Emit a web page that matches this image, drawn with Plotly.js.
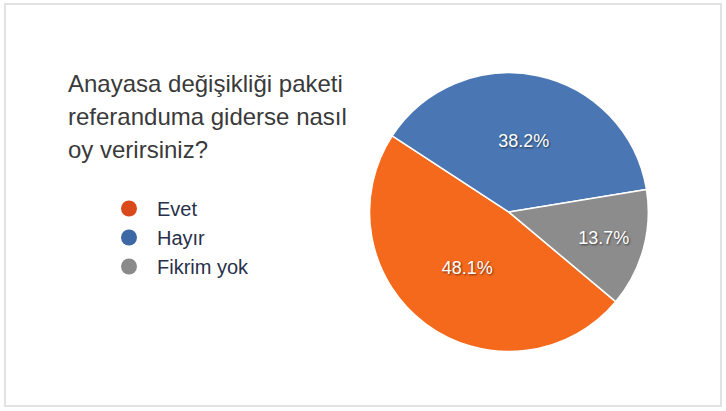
<!DOCTYPE html>
<html>
<head>
<meta charset="utf-8">
<script src="https://cdn.plot.ly/plotly-3.0.1.min.js"></script>
<style>
    body { margin: 0; background: #fff; }
    #wrap { position: relative; width: 726px; height: 411px; }
    #chart { position: absolute; left: 0; top: 0; width: 726px; height: 411px; }
    #frame {
        position: absolute; left: 4px; top: 3px; width: 714px; height: 400px;
        border: 2px solid #e2e2e2; pointer-events: none;
    }
</style>
</head>
<body>
<div id="wrap">
    <div id="chart"></div>
    <div id="frame"></div>
</div>
<script>
    // chart data
    const categories = ["Evet", "Hayır", "Fikrim yok"]
    const shares = [48.1, 38.2, 13.7]
    const titleLines = ["Anayasa değişikliği paketi", "referanduma giderse nasıl", "oy verirsiniz?"]

    const sliceColors = ["#f5691c", "#4a77b3", "#8c8c8c"]
    const legendColors = ["#d9491a", "#3c68a6", "#8a8a8a"]
    const font = "Liberation Sans, Arial, sans-serif"

    let traces = []

    traces.push({
        type: "pie",
        labels: categories,
        values: shares,
        sort: false,
        direction: "clockwise",
        rotation: 130,
        showlegend: false,
        textinfo: "percent",
        texttemplate: "%{percent:.1%}",
        textposition: "inside",
        insidetextorientation: "horizontal",
        textfont: {
            family: font,
            size: 18,
            color: "#ffffff",
            shadow: "1px 1px 2px rgba(0,0,0,0.55)"
        },
        marker: {
            colors: sliceColors,
            line: { color: "#ffffff", width: 1.5 }
        },
        hoverinfo: "label+percent",
        domain: { x: [0.509, 0.893], y: [0.137, 0.831] }
    })

    // fake scatter traces only to get round legend markers
    for (let i = 0; i < categories.length; i++) {
        traces.push({
            type: "scatter",
            mode: "markers",
            x: [null],
            y: [null],
            name: categories[i],
            marker: { color: legendColors[i], size: 19 },
            hoverinfo: "skip"
        })
    }

    let annotations = []
    let baseY = 93
    for (let i = 0; i < titleLines.length; i++) {
        annotations.push({
            text: titleLines[i],
            xref: "paper",
            yref: "paper",
            x: 66 / 726,
            y: 1 - (baseY + i * 33 + 6) / 411,
            xanchor: "left",
            yanchor: "bottom",
            showarrow: false,
            font: { family: font, size: 24, color: "#3a3a3a" }
        })
    }

    let layout = {
        width: 726,
        height: 411,
        margin: { l: 0, r: 0, t: 0, b: 0 },
        paper_bgcolor: "#ffffff",
        plot_bgcolor: "#ffffff",
        xaxis: { visible: false, domain: [0, 0.01] },
        yaxis: { visible: false, domain: [0, 0.01] },
        showlegend: true,
        legend: {
            x: 101 / 726,
            y: 1 - 189 / 411,
            xanchor: "left",
            yanchor: "top",
            bgcolor: "rgba(0,0,0,0)",
            font: { family: font, size: 20, color: "#28304a" },
            itemwidth: 46,
            itemsizing: "trace"
        },
        annotations: annotations
    }

    Plotly.newPlot("chart", traces, layout, { displayModeBar: false, staticPlot: true })
</script>
</body>
</html>
